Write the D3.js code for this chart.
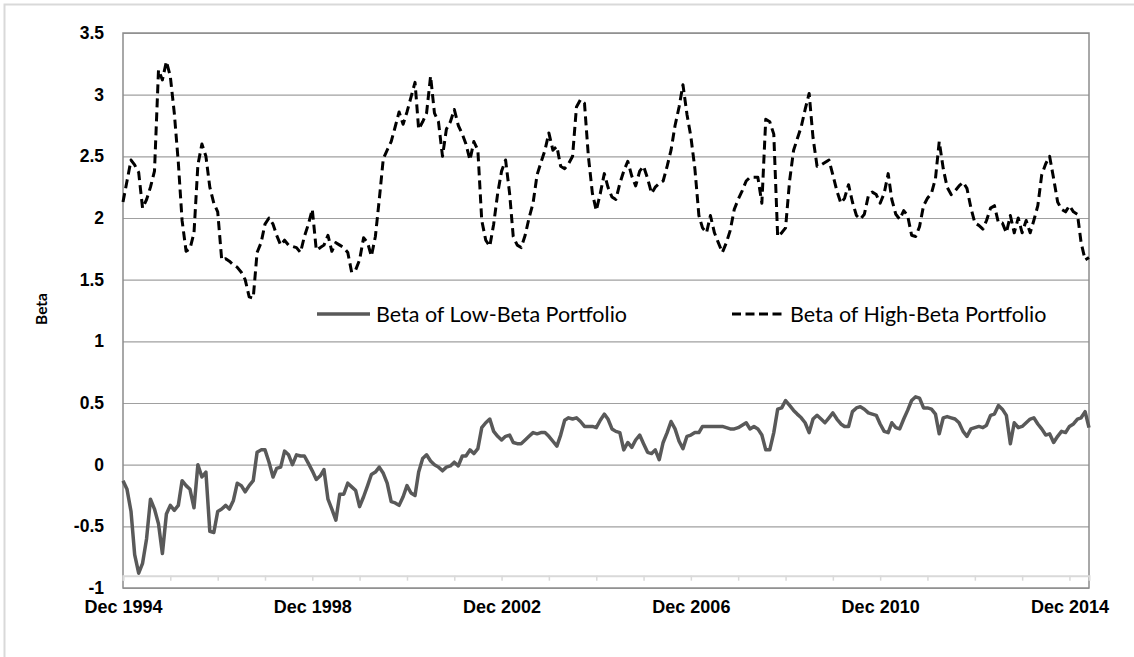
<!DOCTYPE html>
<html>
<head>
<meta charset="utf-8">
<script src="https://cdn.jsdelivr.net/npm/d3@7"></script>
<style>
  body { margin: 0; background: #fff; }
  svg { display: block; font-family: Lato, "Open Sans", sans-serif; }
</style>
</head>
<body>
<svg id="chart" width="1134" height="657"></svg>
<script>
// monthly betas, Dec 1994 .. May 2015
var startMonth = new Date(1994, 11, 1);

var lowBeta = [
  -0.13, -0.20, -0.38, -0.73, -0.88, -0.80, -0.60, -0.28, -0.36, -0.48, -0.72, -0.40,
  -0.33, -0.37, -0.33, -0.13, -0.17, -0.20, -0.35, 0.00, -0.10, -0.06, -0.54, -0.55,
  -0.38, -0.36, -0.33, -0.36, -0.29, -0.15, -0.17, -0.22, -0.17, -0.13, 0.10, 0.12,
  0.12, 0.02, -0.10, -0.03, -0.02, 0.11, 0.08, 0.00, 0.08, 0.07, 0.07, 0.01,
  -0.05, -0.12, -0.09, -0.04, -0.28, -0.36, -0.45, -0.24, -0.24, -0.15, -0.18, -0.21,
  -0.34, -0.26, -0.17, -0.08, -0.06, -0.02, -0.07, -0.15, -0.30, -0.31, -0.33, -0.26,
  -0.17, -0.23, -0.25, -0.06, 0.05, 0.08, 0.03, 0.00, -0.02, -0.05, -0.02, -0.01,
  0.02, -0.01, 0.07, 0.07, 0.12, 0.09, 0.13, 0.30, 0.34, 0.37, 0.27, 0.23,
  0.20, 0.23, 0.24, 0.18, 0.17, 0.17, 0.20, 0.23, 0.26, 0.25, 0.26, 0.26,
  0.23, 0.19, 0.15, 0.24, 0.36, 0.38, 0.37, 0.38, 0.35, 0.31, 0.31, 0.31,
  0.30, 0.36, 0.41, 0.37, 0.29, 0.27, 0.26, 0.12, 0.18, 0.14, 0.20, 0.24,
  0.17, 0.10, 0.09, 0.12, 0.04, 0.18, 0.26, 0.35, 0.29, 0.19, 0.13, 0.23,
  0.24, 0.26, 0.26, 0.31, 0.31, 0.31, 0.31, 0.31, 0.31, 0.30, 0.29, 0.29,
  0.30, 0.32, 0.34, 0.29, 0.31, 0.29, 0.24, 0.12, 0.12, 0.26, 0.45, 0.46,
  0.52, 0.48, 0.44, 0.41, 0.38, 0.34, 0.26, 0.37, 0.40, 0.37, 0.34, 0.38,
  0.42, 0.37, 0.33, 0.31, 0.31, 0.43, 0.46, 0.47, 0.45, 0.42, 0.41, 0.40,
  0.33, 0.27, 0.26, 0.34, 0.30, 0.29, 0.37, 0.44, 0.52, 0.55, 0.54, 0.46,
  0.46, 0.45, 0.41, 0.25, 0.38, 0.39, 0.38, 0.37, 0.34, 0.27, 0.23, 0.29,
  0.30, 0.31, 0.30, 0.32, 0.40, 0.41, 0.48, 0.45, 0.40, 0.17, 0.34, 0.30,
  0.31, 0.34, 0.37, 0.38, 0.33, 0.29, 0.24, 0.25, 0.18, 0.23, 0.27, 0.26,
  0.31, 0.33, 0.37, 0.38, 0.43, 0.30
];

var highBeta = [
  2.13, 2.30, 2.47, 2.43, 2.37, 2.08, 2.15, 2.25, 2.38, 3.20, 3.12, 3.27,
  3.15, 2.85, 2.45, 1.98, 1.73, 1.75, 1.88, 2.43, 2.60, 2.50, 2.25, 2.12,
  2.05, 1.66, 1.67, 1.65, 1.62, 1.60, 1.56, 1.50, 1.36, 1.35, 1.72, 1.80,
  1.95, 2.00, 1.95, 1.86, 1.78, 1.82, 1.78, 1.77, 1.76, 1.72, 1.85, 1.95,
  2.07, 1.74, 1.76, 1.78, 1.86, 1.73, 1.80, 1.78, 1.76, 1.72, 1.56, 1.58,
  1.66, 1.84, 1.80, 1.69, 1.85, 2.15, 2.48, 2.55, 2.62, 2.74, 2.86, 2.76,
  2.86, 2.98, 3.10, 2.72, 2.78, 2.85, 3.15, 2.85, 2.78, 2.50, 2.72, 2.78,
  2.88, 2.75, 2.68, 2.60, 2.47, 2.62, 2.55, 1.98, 1.82, 1.77, 1.95, 2.20,
  2.38, 2.47, 2.20, 1.85, 1.78, 1.76, 1.86, 2.00, 2.12, 2.35, 2.45, 2.55,
  2.69, 2.55, 2.58, 2.42, 2.40, 2.44, 2.50, 2.90, 2.96, 2.93, 2.50, 2.20,
  2.06, 2.20, 2.36, 2.25, 2.17, 2.15, 2.28, 2.38, 2.46, 2.34, 2.26, 2.38,
  2.42, 2.32, 2.20, 2.25, 2.28, 2.30, 2.42, 2.55, 2.75, 2.90, 3.08, 2.84,
  2.66, 2.40, 2.02, 1.92, 1.88, 2.02, 1.88, 1.80, 1.72, 1.80, 1.90, 2.07,
  2.15, 2.22, 2.30, 2.33, 2.33, 2.33, 2.12, 2.80, 2.78, 2.68, 1.85, 1.88,
  1.92, 2.30, 2.55, 2.64, 2.74, 2.88, 3.01, 2.65, 2.42, 2.43, 2.45, 2.47,
  2.35, 2.22, 2.12, 2.16, 2.27, 2.13, 2.02, 1.99, 2.03, 2.18, 2.21, 2.19,
  2.12, 2.20, 2.36, 2.15, 2.03, 1.99, 2.06, 2.02, 1.86, 1.85, 1.93, 2.10,
  2.16, 2.20, 2.32, 2.62, 2.40, 2.25, 2.19, 2.22, 2.26, 2.29, 2.24, 2.08,
  1.96, 1.94, 1.91, 1.98, 2.08, 2.10, 1.96, 1.96, 1.88, 2.02, 1.88, 2.00,
  1.88, 1.98, 1.88, 1.98, 2.10, 2.35, 2.44, 2.50, 2.32, 2.13, 2.07, 2.05,
  2.10, 2.05, 2.03, 1.80, 1.66, 1.68
];

var seriesNames = ["Beta of Low-Beta Portfolio", "Beta of High-Beta Portfolio"];
var yTicks = [-1, -0.5, 0, 0.5, 1, 1.5, 2, 2.5, 3, 3.5];
var labelEvery = 4; // years between x labels

var svg = d3.select("#chart");
var margin = {top: 33, right: 45, bottom: 69, left: 123};
var width = 1134 - margin.left - margin.right,
    height = 657 - margin.top - margin.bottom;

// chart area border (clipped on the right / bottom like the original)
svg.append("rect")
  .attr("x", 4.5).attr("y", 4.5)
  .attr("width", 1200).attr("height", 700)
  .style("fill", "none").style("stroke", "#d9d9d9").style("stroke-width", 2);

var g = svg.append("g").attr("transform", "translate(" + margin.left + "," + margin.top + ")");

var months = lowBeta.map(function(d, i) { return d3.timeMonth.offset(startMonth, i); });

var x = d3.scaleTime()
  .domain([months[0], months[months.length - 1]])
  .range([0, width]);

var y = d3.scaleLinear()
  .domain([-1, 3.5])
  .range([height, 0]);

// gridlines
g.append("g")
  .attr("class", "grid")
  .call(d3.axisLeft(y).tickValues(yTicks).tickSize(-width).tickFormat(""))
  .call(function(s) {
    s.select(".domain").remove();
    s.selectAll("line").style("stroke", "#a0a0a0").style("stroke-width", 1.2);
  });

// plot border
g.append("rect")
  .attr("width", width).attr("height", height)
  .style("fill", "none").style("stroke", "#8c8c8c").style("stroke-width", 1.5);

// y axis labels
g.append("g")
  .call(d3.axisLeft(y).tickValues(yTicks).tickSize(0).tickPadding(19)
    .tickFormat(function(d) { return String(d); }))
  .call(function(s) {
    s.select(".domain").remove();
    s.selectAll("text")
      .style("font-size", "17.5px").style("font-weight", "bold").style("fill", "#000");
  });

// category axis, sits a bit above the bottom of the plot
var yearTicks = d3.range(0, 21).map(function(k) { return new Date(1994 + k, 11, 1); });
var xAxisY = y(-0.9);

g.append("g")
  .attr("transform", "translate(0," + xAxisY + ")")
  .call(d3.axisBottom(x).tickValues(yearTicks).tickSize(5).tickPadding(20)
    .tickFormat(function(d, i) { return i % labelEvery === 0 ? d3.timeFormat("%b %Y")(d) : ""; }))
  .call(function(s) {
    s.select(".domain").style("stroke", "#d9d9d9").style("stroke-width", 2);
    s.selectAll(".tick line").style("stroke", "#d9d9d9").style("stroke-width", 1.5);
    s.selectAll("text")
      .style("font-size", "18px").style("font-weight", "bold").style("fill", "#000");
  });

// y axis title
svg.append("text")
  .attr("transform", "translate(47,309) rotate(-90)")
  .style("text-anchor", "middle")
  .style("font-size", "15.5px").style("font-weight", "bold")
  .text("Beta");

var line = function(values) {
  return d3.line()
    .x(function(d, i) { return x(months[i]); })
    .y(function(d) { return y(d); })(values);
};

g.append("path")
  .attr("d", line(lowBeta))
  .style("fill", "none")
  .style("stroke", "#595959")
  .style("stroke-width", 3.5)
  .style("stroke-linejoin", "round");

g.append("path")
  .attr("d", line(highBeta))
  .style("fill", "none")
  .style("stroke", "#000")
  .style("stroke-width", 3)
  .style("stroke-dasharray", "9,5")
  .style("stroke-linejoin", "round");

// legend, inside the plot between 1 and 1.5
var legend = svg.append("g").attr("class", "legend");
var legendY = 314;

legend.append("line")
  .attr("x1", 317).attr("x2", 370).attr("y1", legendY).attr("y2", legendY)
  .style("stroke", "#595959").style("stroke-width", 3.5);
legend.append("text")
  .attr("x", 376).attr("y", legendY).attr("dy", "0.35em")
  .style("font-size", "21.5px")
  .text(seriesNames[0]);

legend.append("line")
  .attr("x1", 732).attr("x2", 782).attr("y1", legendY).attr("y2", legendY)
  .style("stroke", "#000").style("stroke-width", 3)
  .style("stroke-dasharray", "9,4.5");
legend.append("text")
  .attr("x", 790).attr("y", legendY).attr("dy", "0.35em")
  .style("font-size", "21.5px")
  .text(seriesNames[1]);
</script>
</body>
</html>
